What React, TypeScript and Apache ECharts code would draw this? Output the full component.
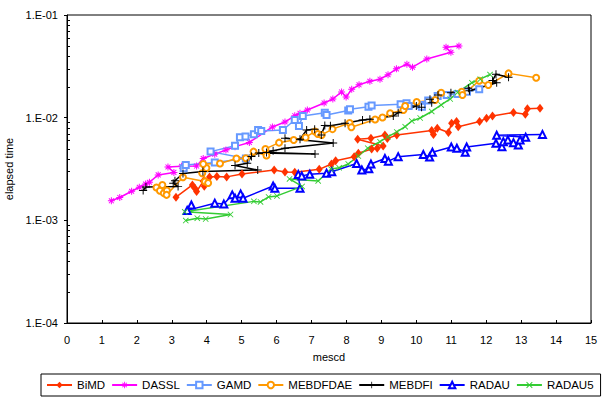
import React, { useEffect, useRef } from "react";
import * as echarts from "echarts";

const FONT = "'Liberation Sans', Arial, sans-serif";

const SERIES_NAMES = ["BiMD", "DASSL", "GAMD", "MEBDFDAE", "MEBDFI", "RADAU", "RADAU5"];
const SERIES_COLORS = ["#FF3300", "#FF00FF", "#6699FF", "#FF9900", "#000000", "#0000FF", "#33CC33"];

const X_MIN = 0;
const X_MAX = 15;
const Y_MIN = 1e-4;
const Y_MAX = 1e-1;
const MINOR_TICKS = [2, 3, 4, 5, 6, 7, 8, 9, 20, 30, 40, 50, 60, 70, 80, 90, 200, 300, 400, 500, 600, 700, 800, 900].map((m) => m * 1e-4);

const BIMD: [number, number][] = [
  [3.12, 0.00168], [3.59, 0.00221], [3.66, 0.00205], [3.71, 0.00191], [3.9, 0.0024], [3.93, 0.00215],
  [4.08, 0.00265], [4.29, 0.00268], [4.57, 0.00265], [5.01, 0.00283], [5.93, 0.00309], [6.24, 0.00295],
  [6.52, 0.00294], [7.22, 0.00314], [7.57, 0.00354], [7.69, 0.00381], [8.22, 0.00417], [8.34, 0.0045],
  [8.72, 0.00496], [8.88, 0.00504], [9.05, 0.0053], [8.32, 0.00617], [8.7, 0.00631], [9.1, 0.00679],
  [9.17, 0.00625], [9.44, 0.00679], [10.44, 0.00751], [10.49, 0.00687], [10.6, 0.00789], [10.92, 0.00717],
  [11.01, 0.00882], [11.15, 0.00918], [11.2, 0.00817], [11.81, 0.00918], [12.01, 0.00986], [12.18, 0.01038],
  [12.78, 0.01124], [13.12, 0.01081], [13.18, 0.0122], [13.54, 0.01234],
];

const DASSL: [number, number][] = [
  [1.27, 0.00155], [1.51, 0.00167], [1.85, 0.00192], [2.07, 0.0021], [2.25, 0.00226], [2.36, 0.00235],
  [2.61, 0.00277], [3.06, 0.00293], [2.89, 0.00331], [3.28, 0.00336], [3.71, 0.00338], [3.9, 0.004],
  [4.23, 0.00441], [4.55, 0.00485], [4.81, 0.00522], [5.22, 0.00574], [5.88, 0.00812], [6.24, 0.00907],
  [6.52, 0.01045], [6.67, 0.01103], [6.88, 0.01188], [7.36, 0.01391], [7.61, 0.0152], [7.86, 0.0178],
  [7.99, 0.0159], [8.15, 0.0189], [8.36, 0.0209], [8.67, 0.0226], [8.96, 0.0237], [9.19, 0.0262],
  [9.43, 0.0299], [9.73, 0.0331], [9.89, 0.031], [10.3, 0.0373], [10.99, 0.0433], [10.85, 0.0484],
  [11.22, 0.0499],
];

const GAMD: [number, number][] = [
  [3.34, 0.00321], [3.4, 0.00346], [4.23, 0.00366], [5.12, 0.004], [4.11, 0.00467], [4.81, 0.00533],
  [4.95, 0.00645], [5.11, 0.00657], [5.35, 0.00691], [5.47, 0.00759], [5.56, 0.00742], [6.18, 0.00759],
  [6.52, 0.00949], [6.64, 0.0083], [6.75, 0.01038], [7.38, 0.01116], [7.43, 0.01062], [8.05, 0.01175],
  [8.1, 0.01207], [8.63, 0.0128], [8.72, 0.01315], [9.55, 0.01354], [9.72, 0.01382], [9.78, 0.013],
  [10.12, 0.0133], [10.16, 0.0128], [10.34, 0.0147], [10.61, 0.01623], [10.87, 0.0166], [11.18, 0.01705],
  [11.45, 0.0179], [11.8, 0.01894],
];

const MEBDFDAE: [number, number][] = [
  [2.56, 0.00209], [2.73, 0.00221], [2.66, 0.00194], [2.77, 0.00184], [2.86, 0.00195], [2.85, 0.00177],
  [3.32, 0.00263], [3.95, 0.00239], [4.04, 0.00231], [3.87, 0.00288], [3.99, 0.00323], [3.9, 0.00354],
  [4.38, 0.00358], [4.85, 0.004], [5.12, 0.00402], [5.34, 0.00467], [5.71, 0.00428], [5.68, 0.00496],
  [6.07, 0.00571], [6.49, 0.00607], [6.83, 0.00642], [7.1, 0.00734], [7.18, 0.00694], [7.29, 0.00679],
  [7.6, 0.00773], [8.09, 0.00888], [8.14, 0.00806], [8.82, 0.0096], [9.03, 0.01004], [9.25, 0.01103],
  [9.63, 0.01188], [9.68, 0.013], [10.01, 0.01421], [10.54, 0.01486], [10.71, 0.0175], [11.3, 0.0179],
  [11.32, 0.0166], [11.8, 0.0229], [12.06, 0.0208], [12.64, 0.027], [13.43, 0.0245],
];

const MEBDFI: [number, number][] = [
  [2.18, 0.00195], [2.26, 0.00211], [3.18, 0.00213], [3.04, 0.0023], [3.09, 0.00243], [3.32, 0.00286],
  [3.89, 0.00299], [5.46, 0.00309], [4.81, 0.00342], [5.16, 0.00359], [5.28, 0.00419], [5.49, 0.00453],
  [7.1, 0.00443], [5.71, 0.00458], [5.9, 0.00477], [6.24, 0.00504], [7.62, 0.00567], [6.24, 0.00631],
  [6.67, 0.00617], [6.86, 0.00759], [7.09, 0.00771], [7.28, 0.00679], [7.38, 0.0084], [7.54, 0.00834],
  [7.96, 0.00882], [8.46, 0.00949], [8.67, 0.00964], [9.34, 0.01038], [9.48, 0.01118], [10.0, 0.013],
  [10.15, 0.01263], [10.39, 0.0151], [10.44, 0.01398], [10.62, 0.0166], [10.99, 0.0175], [11.49, 0.01933],
  [11.52, 0.01831], [12.3, 0.0219], [12.18, 0.023], [12.28, 0.0265], [12.64, 0.0247],
];

const RADAU: [number, number][] = [
  [3.56, 0.00141], [3.44, 0.00125], [4.23, 0.00147], [4.49, 0.00144], [4.73, 0.00177], [4.81, 0.00164],
  [4.97, 0.00181], [5.04, 0.00164], [5.9, 0.00216], [5.95, 0.00205], [6.67, 0.00205], [6.62, 0.0028],
  [6.72, 0.00271], [6.95, 0.00281], [7.43, 0.00288], [7.58, 0.00297], [8.29, 0.00358], [8.44, 0.00309],
  [8.64, 0.00318], [8.7, 0.00354], [9.1, 0.004], [9.2, 0.00377], [9.48, 0.00417], [10.2, 0.00438],
  [10.38, 0.00414], [10.46, 0.00461], [11.0, 0.00518], [11.16, 0.00504], [11.4, 0.00461], [11.44, 0.00518],
  [12.28, 0.00563], [12.45, 0.00522], [12.49, 0.00584], [12.62, 0.00607], [12.78, 0.00571], [12.92, 0.00542],
  [12.97, 0.00607], [13.13, 0.00645], [12.3, 0.00674], [13.61, 0.00687],
];

const RADAU5: [number, number][] = [
  [3.4, 0.000994], [3.73, 0.00105], [3.97, 0.00103], [4.68, 0.00114], [3.37, 0.00121], [5.35, 0.00153],
  [5.54, 0.00151], [5.77, 0.00169], [6.01, 0.00173], [6.73, 0.00214], [6.37, 0.00253], [7.19, 0.00242],
  [7.56, 0.00316], [7.79, 0.00325], [8.05, 0.00354], [8.34, 0.00423], [8.61, 0.00504], [8.96, 0.00584],
  [9.18, 0.00649], [9.44, 0.00726], [9.68, 0.00817], [9.87, 0.00928], [10.11, 0.00993], [10.44, 0.01149],
  [10.71, 0.0133], [10.97, 0.0152], [11.18, 0.0176], [11.59, 0.0219], [11.83, 0.0237], [12.11, 0.0263],
];

const SERIES_DATA = [BIMD, DASSL, GAMD, MEBDFDAE, MEBDFI, RADAU, RADAU5];

const ASTERISK =
  "path://M4.3,0H5.7V10H4.3Z M0,4.3H10V5.7H0Z M1,2L2,1L9,8L8,9Z M8,1L9,2L2,9L1,8Z";
const PLUS = "path://M4.4,0H5.6V10H4.4Z M0,4.4H10V5.6H0Z";
const CROSS = "path://M0,1L1,0L10,9L9,10Z M9,0L10,1L1,10L0,9Z";

const SYMBOLS = ["diamond", ASTERISK, "emptyRect", "emptyCircle", PLUS, "emptyTriangle", CROSS];
const SYMBOL_SIZES: (number | number[])[] = [[7, 9], 7, 6, 6, 8, 7, 6];

function formatLog(v: number): string {
  const e = Math.round(Math.log10(v));
  const sign = e < 0 ? "-" : "+";
  const a = Math.abs(e);
  return "1.E" + sign + (a < 10 ? "0" + a : String(a));
}

export default function App() {
  const ref = useRef<HTMLDivElement>(null);

  useEffect(() => {
    if (!ref.current) return;
    const chart = echarts.init(ref.current, null, { renderer: "svg" });
    const series = SERIES_NAMES.map((name, i) => ({
      name,
      type: "line",
      data: SERIES_DATA[i],
      symbol: SYMBOLS[i],
      symbolSize: SYMBOL_SIZES[i],
      showSymbol: true,
      showAllSymbol: true,
      lineStyle: { color: SERIES_COLORS[i], width: 1.5 },
      itemStyle: {
        color: SERIES_COLORS[i],
        borderColor: SERIES_COLORS[i],
        borderWidth: String(SYMBOLS[i]).startsWith("empty") ? 1.2 : 0,
      },
      emphasis: { disabled: true },
    }));

    chart.setOption({
      animation: false,
      backgroundColor: "#ffffff",
      textStyle: { fontFamily: FONT },
      grid: {
        left: 67,
        right: 12,
        top: 15,
        bottom: 87,
        show: true,
        borderColor: "#000",
        borderWidth: 1,
        containLabel: false,
        outerBoundsMode: "none",
      },
      legend: {
        left: 41,
        top: 374,
        orient: "horizontal",
        itemWidth: 25,
        itemHeight: 8,
        itemGap: 6,
        padding: [5, 7, 5, 5],
        borderColor: "#000",
        borderWidth: 1,
        selectedMode: false,
        textStyle: { fontFamily: FONT, fontSize: 11.5, color: "#000" },
        data: SERIES_NAMES,
      },
      xAxis: {
        type: "value",
        min: X_MIN,
        max: X_MAX,
        interval: 1,
        name: "mescd",
        nameLocation: "middle",
        nameGap: 28,
        nameTextStyle: { fontFamily: FONT, fontSize: 11, color: "#000" },
        axisLine: { show: true, lineStyle: { color: "#000", width: 1 } },
        axisTick: { show: true, inside: true, length: 3, lineStyle: { color: "#000" } },
        splitLine: { show: false },
        axisLabel: { color: "#000", fontFamily: FONT, fontSize: 11, margin: 11 },
      },
      yAxis: {
        type: "log",
        logBase: 10,
        min: Y_MIN,
        max: Y_MAX,
        splitNumber: 3,
        name: "elapsed time",
        nameLocation: "middle",
        nameGap: 46,
        nameRotate: 90,
        nameTextStyle: { fontFamily: FONT, fontSize: 11, color: "#000" },
        axisLine: { show: true, lineStyle: { color: "#000", width: 1 } },
        axisTick: { show: true, inside: false, length: 3, lineStyle: { color: "#000" } },
        splitLine: { show: false },
        axisLabel: {
          color: "#000",
          fontFamily: FONT,
          fontSize: 11,
          margin: 9,
          formatter: (v: number) => formatLog(v),
        },
      },
      series,
    });

    const x0 = chart.convertToPixel({ xAxisIndex: 0 }, X_MIN) as number;
    const minor = MINOR_TICKS.map((v) => {
      const y = Math.round(chart.convertToPixel({ yAxisIndex: 0 }, v) as number) + 0.5;
      return {
        type: "line",
        silent: true,
        shape: { x1: x0, y1: y, x2: x0 + 3, y2: y },
        style: { stroke: "#000", lineWidth: 1 },
        z: 100,
      };
    });
    chart.setOption({ graphic: minor });

    return () => chart.dispose();
  }, []);

  return (
    <div
      ref={ref}
      style={{ position: "fixed", left: 0, top: 0, width: 603, height: 410, background: "#fff" }}
    />
  );
}
